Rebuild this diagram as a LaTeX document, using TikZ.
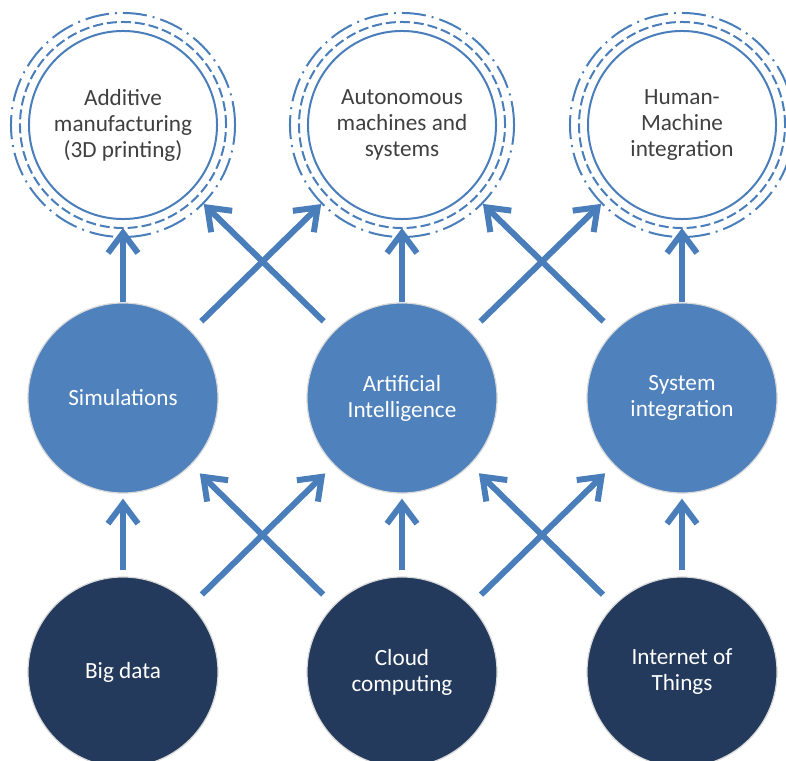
\documentclass[tikz,border=0pt]{standalone}
\usepackage{fontspec}
\setmainfont{Carlito}
\usetikzlibrary{arrows.meta}
\definecolor{flowblue}{HTML}{4A7EBB}
\definecolor{techblue}{HTML}{4F81BD}
\definecolor{basenavy}{HTML}{233A5C}
\definecolor{goalgrey}{HTML}{404040}
\tikzset{
  bubble/.style={circle, inner sep=0pt, align=center, font=\fontsize{16.5}{18.5}\selectfont},
  goal/.style={bubble, draw=flowblue, line width=0.05cm, fill=white, text=goalgrey, minimum size=4.7cm},
  tech/.style={bubble, draw=white!85!black, line width=0.03cm, fill=techblue, text=white, minimum size=4.75cm},
  base/.style={bubble, draw=white!85!black, line width=0.03cm, fill=basenavy, text=white, minimum size=4.75cm},
  flow/.style={draw=flowblue, line width=0.15cm, -{Straight Barb[length=0.5cm, width=0.75cm]}},
  ring/.style={draw=flowblue, line width=0.05cm, dash pattern=on 0.25cm off 0.1cm},
  halo/.style={draw=flowblue, line width=0.05cm, dash pattern=on 0.6cm off 0.15cm on 0.05cm off 0.15cm}
}
\begin{document}
\begin{tikzpicture}[x=0.025cm, y=-0.025cm]
  \useasboundingbox (0,0) rectangle (786,760);
  % goals
  \node[goal] (ADD) at (123,125) {Additive\\manufacturing\\(3D printing)};
  \node[goal] (AUT) at (402,125) {Autonomous\\machines and\\systems};
  \node[goal] (HMI) at (682,125) {Human-\\Machine\\integration};
  \foreach \g in {ADD,AUT,HMI} {
    \draw[ring] (\g.center) circle (2.575cm);
    \draw[halo] (\g.center) circle (2.8cm);
  }
  % technologies
  \node[tech] (SIM) at (123,398) {Simulations};
  \node[tech] (AI) at (402,398) {Artificial\\Intelligence};
  \node[tech] (SYS) at (682,398) {System\\integration};
  % foundations
  \node[base] (BIG) at (123,672) {Big data};
  \node[base] (CLD) at (402,672) {Cloud\\computing};
  \node[base] (IOT) at (682,672) {Internet of\\Things};
  % arrows
  \foreach \lo/\hi in {SIM/ADD, AI/AUT, SYS/HMI}
    \draw[flow, shorten >=0.2cm] (\lo) -- (\hi);
  \foreach \lo/\hi in {SIM/AUT, AI/ADD, AI/HMI, SYS/AUT}
    \draw[flow, shorten <=0.35cm, shorten >=0.45cm] (\lo) -- (\hi);
  \foreach \lo/\hi in {BIG/SIM, CLD/AI, IOT/SYS}
    \draw[flow, shorten <=0.15cm, shorten >=0.125cm] (\lo) -- (\hi);
  \foreach \lo/\hi in {BIG/AI, CLD/SIM, CLD/SYS, IOT/AI}
    \draw[flow, shorten <=0.375cm, shorten >=0.3cm] (\lo) -- (\hi);
\end{tikzpicture}
\end{document}
